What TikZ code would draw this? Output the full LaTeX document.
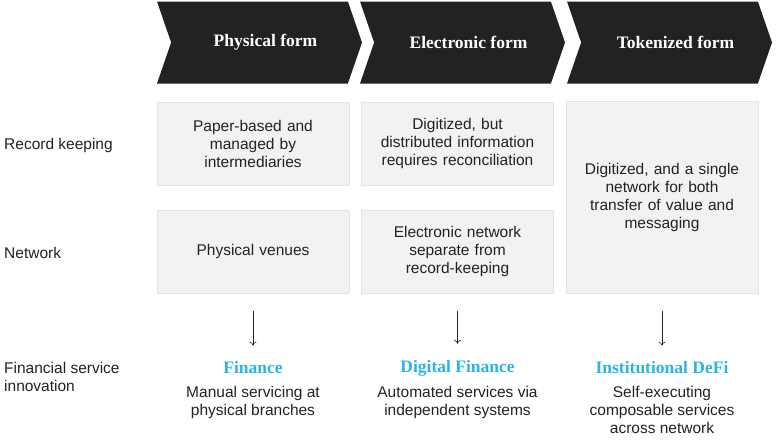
\documentclass[tikz,border=0pt]{standalone}
\usepackage{fontspec}
\setmainfont{Liberation Serif}
\setsansfont{Liberation Sans}
\usetikzlibrary{arrows.meta, positioning, shapes.symbols}
\definecolor{chevInk}{HTML}{222222}
\definecolor{cellFill}{HTML}{F2F2F2}
\definecolor{cellLine}{HTML}{E3E3E3}
\definecolor{innoBlue}{HTML}{2BB4E6}
\definecolor{txtGrey}{HTML}{222222}

\begin{document}
\begin{tikzpicture}[x=1pt, y=-1pt,
   chev/.style={signal, signal from=west, signal to=east,
                signal pointer angle=142, fill=chevInk, draw=none,
                minimum width=205pt, minimum height=82pt, inner sep=0pt,
                text=white, font=\fontsize{17.5}{20}\selectfont\bfseries},
   cell/.style={rectangle, fill=cellFill, draw=cellLine, line width=0.8pt,
                minimum width=192pt, text width=180pt, inner sep=0pt,
                align=center, text=txtGrey,
                font=\sffamily\fontsize{15.5}{18}\selectfont},
   rowlab/.style={anchor=west, align=left, inner sep=0pt, text=txtGrey,
                  font=\sffamily\fontsize{15.5}{18}\selectfont},
   head/.style={inner sep=0pt, text=innoBlue,
                font=\fontsize{17.5}{20}\selectfont\bfseries},
   desc/.style={anchor=north, align=center, inner sep=0pt, text=txtGrey,
                font=\sffamily\fontsize{15.5}{18}\selectfont},
   arr/.style={-{To[length=4pt, width=7pt]}, line width=0.6pt, txtGrey}]
\useasboundingbox (0,0) rectangle (776,440);

% header chevrons
\node[chev] (ch1) at (259.5,42.5) {\hspace*{12pt}Physical form};
\node[chev] (ch2) at (462.5,42.5) {\hspace*{12pt}Electronic form};
\node[chev] (ch3) at (669.5,42.5) {\hspace*{12pt}Tokenized form};

% row labels
\node[rowlab] (lrec) at (4,145) {Record keeping};
\node[rowlab] (lnet) at (4,253) {Network};
\node[rowlab] (linn) at (4,377) {Financial service\\innovation};

% grey cells
\node[cell, minimum height=83pt] (rec1) at (253,143.5)
  {Paper-based and\\managed by\\intermediaries};
\node[cell, minimum height=83pt] (net1) at (253,251.5)
  {Physical venues};
\node[cell, minimum height=83pt] (rec2) at (457.5,143.5)
  {Digitized, but\\distributed information\\requires reconciliation};
\node[cell, minimum height=83pt] (net2) at (457.5,251.5)
  {Electronic network\\separate from\\record-keeping};
\node[cell, minimum height=192pt] (tok3) at (662,197)
  {Digitized, and a single\\network for both\\transfer of value and\\messaging\\[10pt]};

% innovation row
\node[head] (fin1) at (253,368) {Finance};
\node[head] (fin2) at (457.5,368) {Digital Finance};
\node[head] (fin3) at (662,368) {Institutional DeFi};
\node[desc] (d1) at (253,386) {Manual servicing at\\physical branches};
\node[desc] (d2) at (457.5,386) {Automated services via\\independent systems};
\node[desc] (d3) at (662,386) {Self-executing\\composable services\\across network};

\draw[arr, shorten <=18pt, shorten >=16pt] (net1.south) -- (fin1.north);
\draw[arr, shorten <=18pt, shorten >=16pt] (net2.south) -- (fin2.north);
\draw[arr, shorten <=18pt, shorten >=16pt] (tok3.south) -- (fin3.north);
\end{tikzpicture}
\end{document}
